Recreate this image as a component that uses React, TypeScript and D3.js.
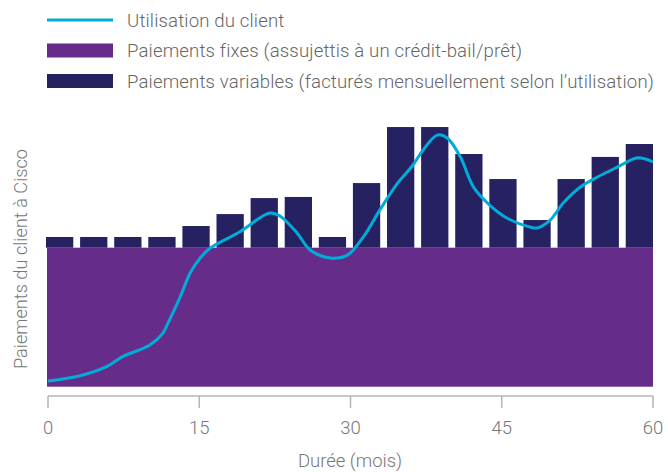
import React from "react";
import * as d3 from "d3";

// months 1..18 bars (one per ~3.3 months), values in payment units
const barIndex = d3.range(18);
const fixedPayment = 10;
const variablePayments = [
  0.77, 0.77, 0.77, 0.77, 1.56, 2.42, 3.57, 3.65, 0.77,
  4.65, 8.68, 8.68, 6.74, 4.94, 1.99, 4.94, 6.53, 7.46,
];

// customer usage curve (month, value)
const usageMonths = [
  0, 3.2, 5.8, 7.4, 10.1, 11.4, 11.9, 13.1, 14.1, 15.1, 16.1, 19.0, 22.0, 23.0,
  24.7, 26.0, 28.0, 29.7, 31.2, 32.9, 34.6, 36.2, 37.2, 38.6, 39.6, 40.9, 42.2,
  43.8, 45.5, 47.8, 48.5, 49.8, 51.1, 52.8, 54.5, 56.5, 58.4, 60,
];
const usageValues = [
  0.41, 0.79, 1.44, 2.16, 3.0, 3.86, 4.58, 6.45, 8.18, 9.26, 9.98, 11.13, 12.5,
  12.28, 11.06, 9.83, 9.26, 9.47, 10.7, 12.7, 14.58, 15.95, 17.03, 18.1, 17.89,
  16.52, 14.36, 13.07, 12.14, 11.49, 11.42, 11.99, 13.22, 14.37, 15.09, 15.81,
  16.46, 16.17,
];

const xTicks = [0, 15, 30, 45, 60];

const legendItems = [
  { label: "Utilisation du client", kind: "line" },
  { label: "Paiements fixes (assujettis à un crédit-bail/prêt)", kind: "fixed" },
  { label: "Paiements variables (facturés mensuellement selon l’utilisation)", kind: "variable" },
];

const PURPLE = "#652d89";
const NAVY = "#262262";
const BLUE = "#00acd8";
const FONT = "Roboto, 'Open Sans', sans-serif";

export default function App() {
  const width = 668;
  const height = 472;

  const x = d3.scaleLinear().domain([0, 60]).range([48, 653]);
  const y = d3.scaleLinear().domain([0, 20]).range([386.7, 108.7]);
  const band = d3
    .scaleBand<number>()
    .domain(barIndex)
    .range([46, 653])
    .paddingInner(0.2)
    .paddingOuter(0);

  const line = d3
    .line<number>()
    .x((_, i) => x(usageMonths[i]))
    .y((d) => y(d))
    .curve(d3.curveCatmullRom.alpha(0.5));

  const axisY = 396;

  return (
    <svg
      width={width}
      height={height}
      style={{ position: "absolute", left: 0, top: 0, background: "#fff" }}
      fontFamily={FONT}
    >
      {/* legend */}
      {legendItems.map((item, i) => {
        const cy = 20 + i * 30.5;
        return (
          <g key={item.label}>
            {item.kind === "line" ? (
              <line x1={47} x2={113} y1={cy} y2={cy} stroke={BLUE} strokeWidth={3} />
            ) : (
              <rect
                x={47}
                y={cy - 7}
                width={66}
                height={14}
                fill={item.kind === "fixed" ? PURPLE : NAVY}
              />
            )}
            <text
              x={127}
              y={cy}
              dy="0.35em"
              fontSize={18.6}
              fontWeight={300}
              letterSpacing={0.15}
              fill="#666"
            >
              {item.label}
            </text>
          </g>
        );
      })}

      {/* fixed payments */}
      <rect
        x={x(0) - 1}
        y={y(fixedPayment)}
        width={x(60) - x(0) + 1}
        height={y(0) - y(fixedPayment)}
        fill={PURPLE}
      />

      {/* variable payments stacked on fixed */}
      {variablePayments.map((v, i) => (
        <rect
          key={i}
          x={band(i)}
          y={y(fixedPayment + v)}
          width={band.bandwidth()}
          height={y(fixedPayment) - y(fixedPayment + v)}
          fill={NAVY}
        />
      ))}

      {/* usage curve */}
      <path d={line(usageValues) || ""} fill="none" stroke={BLUE} strokeWidth={3} />

      {/* x axis */}
      <line x1={x(0)} x2={x(60)} y1={axisY} y2={axisY} stroke="#b5b5b5" strokeWidth={1.5} />
      {xTicks.map((t) => (
        <g key={t} transform={`translate(${x(t)},0)`}>
          <line y1={axisY} y2={axisY + 12} stroke="#b5b5b5" strokeWidth={1.5} />
          <text
            y={428}
            dy="0.35em"
            textAnchor="middle"
            fontSize={18.5}
            fontWeight={300}
            fill="#777"
          >
            {t}
          </text>
        </g>
      ))}

      <text
        x={350}
        y={461}
        dy="0.35em"
        textAnchor="middle"
        fontSize={18.5}
        fontWeight={300}
        fill="#777"
      >
        Durée (mois)
      </text>

      <text
        transform="translate(21,259) rotate(-90)"
        dy="0.35em"
        textAnchor="middle"
        fontSize={18.2}
        fontWeight={300}
        fill="#777"
      >
        Paiements du client à Cisco
      </text>
    </svg>
  );
}
